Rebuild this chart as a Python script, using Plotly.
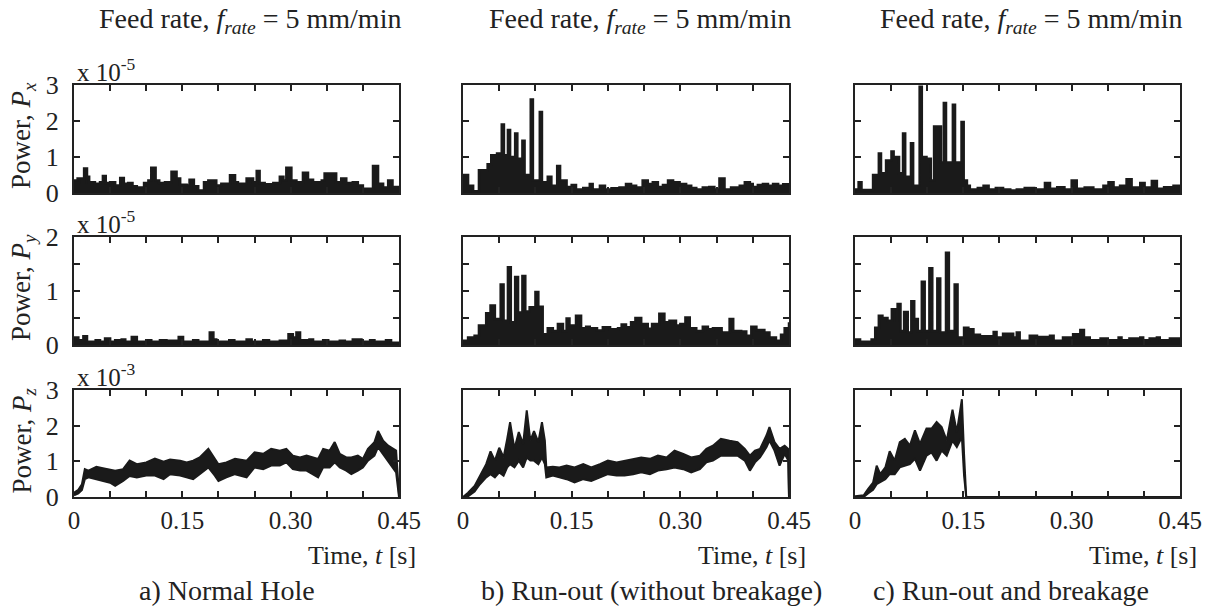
import plotly.graph_objects as go

W, H = 1215, 608
FONT = "Liberation Serif, Times New Roman, serif"
INK = "#1a1a1a"
TXT = "#222222"

# ---------------- data ----------------
# Power Px (x 1e-5): step envelope, value holds from each time to the next
t_px_a = [0, 0.005, 0.011, 0.014, 0.018, 0.021, 0.029, 0.036, 0.040, 0.044,
          0.050, 0.057, 0.064, 0.069, 0.075, 0.081, 0.087, 0.097, 0.103, 0.107,
          0.113, 0.118, 0.126, 0.135, 0.142, 0.147, 0.156, 0.160, 0.166, 0.172,
          0.180, 0.186, 0.197, 0.204, 0.216, 0.223, 0.227, 0.239, 0.248, 0.253,
          0.257, 0.264, 0.276, 0.285, 0.290, 0.294, 0.301, 0.308, 0.317, 0.324,
          0.331, 0.343, 0.347, 0.363, 0.370, 0.377, 0.386, 0.393, 0.400, 0.414,
          0.421, 0.428, 0.435, 0.441, 0.45]
px_a = [0.35, 0.4, 0.3, 0.68, 0.45, 0.3, 0.26, 0.3, 0.47, 0.28,
        0.3, 0.21, 0.42, 0.26, 0.28, 0.19, 0.15, 0.28, 0.35, 0.7,
        0.35, 0.28, 0.3, 0.59, 0.4, 0.23, 0.21, 0.37, 0.19, 0.07,
        0.3, 0.35, 0.21, 0.26, 0.49, 0.3, 0.26, 0.4, 0.3, 0.61,
        0.28, 0.24, 0.28, 0.45, 0.35, 0.7, 0.35, 0.3, 0.56, 0.37,
        0.3, 0.35, 0.54, 0.3, 0.4, 0.28, 0.3, 0.21, 0.12, 0.75,
        0.26, 0.15, 0.35, 0.17, 0.17]

t_px_b = [0, 0.007, 0.014, 0.022, 0.034, 0.039, 0.047, 0.0535, 0.0565, 0.062,
          0.065, 0.072, 0.075, 0.082, 0.085, 0.0935, 0.0965, 0.106, 0.109, 0.117,
          0.122, 0.130, 0.134, 0.143, 0.150, 0.156, 0.166, 0.175, 0.179, 0.189,
          0.196, 0.205, 0.216, 0.225, 0.232, 0.239, 0.248, 0.255, 0.262, 0.269,
          0.276, 0.283, 0.290, 0.299, 0.308, 0.315, 0.322, 0.331, 0.340, 0.347,
          0.354, 0.361, 0.370, 0.382, 0.389, 0.396, 0.400, 0.407, 0.414, 0.421,
          0.428, 0.435, 0.442, 0.45]
px_b = [0.5, 0.2, 0.05, 0.63, 0.8, 1.05, 1.1, 1.9, 1.05, 1.75,
        1.0, 1.65, 0.95, 1.45, 0.5, 2.6, 0.35, 2.25, 0.3, 0.45,
        0.2, 0.75, 0.35, 0.17, 0.22, 0.1, 0.14, 0.25, 0.1, 0.2,
        0.1, 0.13, 0.15, 0.25, 0.2, 0.15, 0.35, 0.25, 0.3, 0.17,
        0.22, 0.35, 0.3, 0.25, 0.2, 0.14, 0.1, 0.15, 0.17, 0.1,
        0.4, 0.1, 0.15, 0.2, 0.3, 0.25, 0.17, 0.22, 0.25, 0.2,
        0.25, 0.2, 0.24, 0.2]

t_px_c = [0, 0.005, 0.009, 0.025, 0.033, 0.036, 0.043, 0.0505, 0.0535, 0.061,
          0.0665, 0.0695, 0.0775, 0.0805, 0.085, 0.0895, 0.0925, 0.099, 0.105, 0.1095,
          0.119, 0.123, 0.126, 0.1355, 0.1385, 0.1475, 0.1505, 0.155, 0.159, 0.170,
          0.178, 0.185, 0.195, 0.205, 0.215, 0.224, 0.235, 0.248, 0.263, 0.270,
          0.280, 0.290, 0.300, 0.307, 0.318, 0.330, 0.344, 0.351, 0.358, 0.367,
          0.376, 0.383, 0.395, 0.401, 0.411, 0.418, 0.428, 0.441, 0.45]
px_c = [0.1, 0.3, 0.08, 0.5, 1.1, 0.55, 0.9, 1.15, 1.0, 0.55,
        1.65, 0.45, 1.38, 0.2, 0.2, 2.95, 1.0, 0.95, 0.35, 1.85,
        0.85, 2.5, 0.85, 2.45, 0.85, 1.97, 0.35, 0.2, 0.1, 0.14,
        0.2, 0.1, 0.14, 0.1, 0.07, 0.1, 0.14, 0.1, 0.28, 0.12,
        0.16, 0.1, 0.35, 0.12, 0.15, 0.1, 0.2, 0.3, 0.15, 0.2,
        0.38, 0.15, 0.28, 0.15, 0.33, 0.12, 0.16, 0.2, 0.2]

# Power Py (x 1e-5)
t_py_a = [0, 0.006, 0.013, 0.018, 0.030, 0.036, 0.043, 0.050, 0.057, 0.066,
          0.071, 0.080, 0.087, 0.100, 0.107, 0.119, 0.128, 0.145, 0.151, 0.165,
          0.172, 0.188, 0.193, 0.197, 0.215, 0.222, 0.239, 0.246, 0.262, 0.270,
          0.285, 0.297, 0.303, 0.308, 0.313, 0.326, 0.331, 0.345, 0.352, 0.368,
          0.375, 0.386, 0.398, 0.410, 0.416, 0.432, 0.439, 0.45]
py_a = [0.14, 0.09, 0.16, 0.06, 0.09, 0.06, 0.12, 0.06, 0.09, 0.1,
        0.06, 0.15, 0.06, 0.09, 0.06, 0.09, 0.08, 0.15, 0.06, 0.09,
        0.06, 0.23, 0.1, 0.06, 0.09, 0.06, 0.1, 0.06, 0.09, 0.06,
        0.08, 0.2, 0.14, 0.23, 0.09, 0.1, 0.06, 0.09, 0.06, 0.08,
        0.06, 0.1, 0.06, 0.09, 0.06, 0.09, 0.04, 0.04]

t_py_b = [0, 0.007, 0.016, 0.022, 0.032, 0.038, 0.044, 0.052, 0.056, 0.062,
          0.066, 0.072, 0.076, 0.082, 0.086, 0.092, 0.100, 0.104, 0.110, 0.117,
          0.124, 0.131, 0.138, 0.143, 0.147, 0.156, 0.163, 0.170, 0.175, 0.185,
          0.193, 0.203, 0.214, 0.219, 0.225, 0.232, 0.238, 0.246, 0.255, 0.261,
          0.271, 0.278, 0.285, 0.294, 0.300, 0.307, 0.313, 0.322, 0.331, 0.338,
          0.345, 0.357, 0.368, 0.373, 0.384, 0.391, 0.398, 0.405, 0.416, 0.423,
          0.432, 0.439, 0.444, 0.45]
py_b = [0.08, 0.14, 0.17, 0.36, 0.59, 0.73, 0.48, 1.12, 0.45, 1.44,
        0.42, 1.26, 0.6, 1.28, 0.62, 0.7, 0.98, 0.71, 0.2, 0.31,
        0.26, 0.39, 0.26, 0.49, 0.36, 0.54, 0.31, 0.34, 0.31, 0.27,
        0.33, 0.29, 0.31, 0.38, 0.33, 0.42, 0.5, 0.39, 0.3, 0.39,
        0.58, 0.42, 0.45, 0.36, 0.39, 0.51, 0.31, 0.26, 0.34, 0.29,
        0.31, 0.23, 0.48, 0.26, 0.25, 0.17, 0.34, 0.28, 0.23, 0.14,
        0.08, 0.19, 0.31, 0.42]

t_py_c = [0, 0.007, 0.023, 0.028, 0.033, 0.038, 0.045, 0.051, 0.058, 0.059,
          0.063, 0.068, 0.073, 0.078, 0.082, 0.087, 0.0925, 0.0965, 0.103, 0.107,
          0.114, 0.118, 0.126, 0.130, 0.138, 0.142, 0.151, 0.157, 0.164, 0.173,
          0.192, 0.196, 0.205, 0.219, 0.224, 0.228, 0.242, 0.252, 0.270, 0.275,
          0.288, 0.302, 0.312, 0.317, 0.325, 0.340, 0.350, 0.365, 0.369, 0.380,
          0.395, 0.399, 0.408, 0.418, 0.422, 0.436, 0.45]
py_c = [0.1, 0.06, 0.1, 0.32, 0.54, 0.5, 0.45, 0.66, 0.45, 0.76,
        0.26, 0.61, 0.23, 0.81, 0.48, 0.26, 1.17, 0.26, 1.42, 0.26,
        1.23, 0.23, 1.71, 0.26, 1.12, 0.14, 0.32, 0.29, 0.19, 0.16,
        0.24, 0.14, 0.21, 0.14, 0.23, 0.08, 0.17, 0.15, 0.17, 0.08,
        0.14, 0.2, 0.28, 0.14, 0.09, 0.12, 0.09, 0.14, 0.09, 0.12,
        0.14, 0.09, 0.12, 0.14, 0.09, 0.12, 0.12]

# Power Pz (x 1e-3): upper and lower edge of the noisy band
t_pz_a = [0, 0.006, 0.011, 0.015, 0.020, 0.031, 0.040, 0.050, 0.057, 0.068,
          0.077, 0.087, 0.100, 0.112, 0.124, 0.133, 0.147, 0.156, 0.165, 0.174,
          0.186, 0.195, 0.200, 0.211, 0.223, 0.239, 0.250, 0.262, 0.273, 0.285,
          0.294, 0.303, 0.313, 0.322, 0.331, 0.338, 0.345, 0.354, 0.361, 0.368,
          0.377, 0.384, 0.393, 0.400, 0.407, 0.416, 0.421, 0.428, 0.435, 0.442,
          0.446, 0.45]
pz_a_hi = [0.12, 0.2, 0.36, 0.78, 0.74, 0.85, 0.81, 0.78, 0.74, 0.78,
           1.02, 0.92, 0.97, 1.08, 0.99, 1.05, 1.02, 0.97, 1.02, 1.11,
           1.35, 1.07, 0.92, 0.97, 1.07, 1.02, 1.25, 1.21, 1.35, 1.3,
           1.35, 1.16, 1.11, 1.16, 1.11, 1.07, 1.35, 1.3, 1.54, 1.21,
           1.11, 1.11, 1.16, 1.07, 1.35, 1.54, 1.85, 1.58, 1.44, 1.35,
           1.3, 0.08]
pz_a_lo = [0.05, 0.1, 0.2, 0.5, 0.55, 0.5, 0.45, 0.4, 0.31, 0.45,
           0.59, 0.55, 0.6, 0.6, 0.5, 0.64, 0.6, 0.55, 0.5, 0.64,
           0.83, 0.6, 0.45, 0.55, 0.64, 0.55, 0.83, 0.78, 0.88, 0.88,
           0.97, 0.78, 0.74, 0.74, 0.64, 0.55, 0.83, 0.83, 0.97, 0.83,
           0.74, 0.64, 0.74, 0.83, 1.02, 1.16, 1.4, 1.21, 1.02, 0.83,
           0.69, 0.0]

t_pz_b = [0, 0.007, 0.016, 0.023, 0.032, 0.038, 0.044, 0.050, 0.056, 0.061,
          0.065, 0.071, 0.077, 0.083, 0.088, 0.093, 0.098, 0.104, 0.109, 0.113,
          0.115, 0.124, 0.133, 0.143, 0.154, 0.166, 0.177, 0.189, 0.200, 0.212,
          0.223, 0.235, 0.246, 0.258, 0.269, 0.281, 0.292, 0.304, 0.315, 0.327,
          0.336, 0.345, 0.356, 0.368, 0.379, 0.389, 0.396, 0.403, 0.410, 0.419,
          0.423, 0.430, 0.437, 0.444, 0.449, 0.45]
pz_b_hi = [0, 0.12, 0.31, 0.59, 0.92, 1.28, 1.02, 1.38, 1.11, 1.63,
           2.1, 1.35, 1.82, 1.49, 2.43, 1.58, 1.85, 1.54, 2.1, 1.58,
           0.83, 0.85, 0.83, 0.88, 0.83, 0.92, 0.83, 0.92, 1.02, 0.97,
           1.02, 1.07, 1.11, 1.07, 1.16, 1.11, 1.3, 1.21, 1.11, 1.16,
           1.35, 1.44, 1.63, 1.58, 1.54, 1.35, 1.16, 1.3, 1.35, 1.73,
           1.96, 1.54, 1.35, 1.44, 1.35, 0.0]
pz_b_lo = [0, 0.02, 0.15, 0.35, 0.55, 0.64, 0.55, 0.69, 0.6, 0.83,
           0.92, 0.83, 1.02, 0.83, 1.11, 1.02, 1.02, 0.92, 1.11, 0.92,
           0.55, 0.6, 0.55, 0.5, 0.41, 0.5, 0.45, 0.55, 0.64, 0.6,
           0.6, 0.64, 0.69, 0.64, 0.74, 0.78, 0.83, 0.78, 0.69, 0.78,
           0.97, 1.02, 1.16, 1.16, 1.16, 1.02, 0.74, 0.97, 1.11, 1.4,
           1.58, 1.3, 0.88, 1.21, 1.02, 0.0]

t_pz_c = [0, 0.012, 0.018, 0.025, 0.030, 0.035, 0.042, 0.048, 0.055, 0.062,
          0.069, 0.076, 0.083, 0.090, 0.099, 0.106, 0.113, 0.120, 0.127, 0.135,
          0.141, 0.148, 0.151, 0.154, 0.45]
pz_c_hi = [0.02, 0.05, 0.22, 0.4, 0.88, 0.64, 0.83, 1.28, 1.02, 1.54,
           1.63, 1.44, 1.87, 1.49, 1.92, 1.92, 2.1, 1.96, 1.58, 2.45,
           1.82, 2.74, 1.2, 0.0, 0.0]
pz_c_lo = [0, 0, 0.1, 0.2, 0.36, 0.41, 0.5, 0.64, 0.64, 0.83,
           0.88, 0.92, 1.07, 0.74, 1.16, 1.25, 1.02, 1.3, 1.16, 1.58,
           1.4, 1.68, 0.6, 0.0, 0.0]

# axes / labels
x_major_vals = [0, 0.15, 0.30, 0.45]
x_major_text = ["0", "0.15", "0.30", "0.45"]
x_minor_vals = [0.05, 0.10, 0.20, 0.25, 0.35, 0.40]
y_ranges = [[0, 3], [0, 2], [0, 3]]
y_major_vals = [[0, 1, 2, 3], [0, 1, 2], [0, 1, 2, 3]]
y_major_text = [["0", "1", "2", "3"], ["0", "1", "2"], ["0", "1", "2", "3"]]
y_minor_vals = [[], [0.5, 1.5], []]
y_titles = ["Power, <i>P</i><sub><i>x</i></sub>",
            "Power, <i>P</i><sub><i>y</i></sub>",
            "Power, <i>P</i><sub><i>z</i></sub>"]
y_exponents = ["-5", "-5", "-3"]
col_title = "Feed rate, <i>f</i><sub><i>rate</i></sub> = 5 mm/min"
x_title = "Time, <i>t</i> [s]"
captions = ["a) Normal Hole", "b) Run-out (without breakage)", "c) Run-out and breakage"]

step_t = [[t_px_a, t_px_b, t_px_c], [t_py_a, t_py_b, t_py_c]]
step_v = [[px_a, px_b, px_c], [py_a, py_b, py_c]]
band_t = [t_pz_a, t_pz_b, t_pz_c]
band_hi = [pz_a_hi, pz_b_hi, pz_c_hi]
band_lo = [pz_a_lo, pz_b_lo, pz_c_lo]

# ---------------- layout geometry (pixels) ----------------
col_px = [(74, 399), (463, 789), (855, 1180)]
row_px = [(85, 193), (237, 345), (390, 497)]


def fx(p):
    return p / W


def fy(p):
    return 1 - p / H


fig = go.Figure()
layout = dict(width=W, height=H, autosize=False, template="none",
              margin=dict(l=0, r=0, t=0, b=0, pad=0),
              paper_bgcolor="white", plot_bgcolor="white",
              showlegend=False, font=dict(family=FONT, color=TXT))

for r in range(3):
    for c in range(3):
        i = r * 3 + c + 1
        sfx = "" if i == 1 else str(i)
        xname, yname = "x" + sfx, "y" + sfx
        tick_common = dict(ticks="inside", ticklen=6, tickwidth=2, tickcolor=TXT)
        layout["xaxis" + sfx] = dict(
            domain=[fx(col_px[c][0]), fx(col_px[c][1])], range=[0, 0.45],
            anchor=yname, tickmode="array", tickvals=x_major_vals,
            ticktext=x_major_text, showticklabels=(r == 2),
            minor=dict(tickmode="array", tickvals=x_minor_vals, **tick_common),
            showline=True, linewidth=2, linecolor=TXT, mirror="ticks",
            showgrid=False, zeroline=False, fixedrange=True, automargin=False,
            tickfont=dict(family=FONT, size=25, color=TXT), **tick_common)
        ymin = dict(tickmode="array", tickvals=y_minor_vals[r], **tick_common) \
            if y_minor_vals[r] else dict(ticks="")
        layout["yaxis" + sfx] = dict(
            domain=[fy(row_px[r][1]), fy(row_px[r][0])], range=y_ranges[r],
            anchor=xname, tickmode="array", tickvals=y_major_vals[r],
            ticktext=y_major_text[r], showticklabels=(c == 0),
            minor=ymin,
            showline=True, linewidth=2, linecolor=TXT, mirror="ticks",
            showgrid=False, zeroline=False, fixedrange=True, automargin=False,
            ticklabelstandoff=8,
            tickfont=dict(family=FONT, size=26, color=TXT), **tick_common)
        if r < 2:
            fig.add_trace(go.Scatter(
                x=step_t[r][c], y=step_v[r][c], mode="lines",
                line=dict(color=INK, width=2.5, shape="hv"),
                fill="tozeroy", fillcolor=INK,
                xaxis=xname, yaxis=yname, hoverinfo="skip"))
        else:
            fig.add_trace(go.Scatter(
                x=band_t[c], y=band_lo[c], mode="lines",
                line=dict(color=INK, width=2),
                xaxis=xname, yaxis=yname, hoverinfo="skip"))
            fig.add_trace(go.Scatter(
                x=band_t[c], y=band_hi[c], mode="lines",
                line=dict(color=INK, width=2),
                fill="tonexty", fillcolor=INK,
                xaxis=xname, yaxis=yname, hoverinfo="skip"))

ann = []
for c in range(3):
    ann.append(dict(text=col_title, x=fx(col_px[c][1] + 4), y=fy(20),
                    xanchor="right", yanchor="middle",
                    font=dict(size=28, family=FONT, color=TXT)))
for r in range(3):
    ann.append(dict(text=y_titles[r], x=fx(23), y=fy((row_px[r][0] + row_px[r][1]) / 2 - 3),
                    xanchor="center", yanchor="middle", textangle=-90,
                    font=dict(size=27, family=FONT, color=TXT)))
    ann.append(dict(text="x 10<sup>" + y_exponents[r] + "</sup>",
                    x=fx(75), y=fy(row_px[r][0] + 3), xanchor="left", yanchor="bottom",
                    font=dict(size=25, family=FONT, color=TXT)))
cap_cx = [227, 651, 1011]
for c in range(3):
    ann.append(dict(text=x_title, x=fx(col_px[c][1] + 19), y=fy(555),
                    xanchor="right", yanchor="middle",
                    font=dict(size=26, family=FONT, color=TXT)))
    ann.append(dict(text=captions[c], x=fx(cap_cx[c]), y=fy(590),
                    xanchor="center", yanchor="middle",
                    font=dict(size=28, family=FONT, color=TXT)))
for a in ann:
    a.update(xref="paper", yref="paper", showarrow=False)
layout["annotations"] = ann

fig.update_layout(**layout)
fig.write_html("out.html",
               config={"displayModeBar": False, "staticPlot": True},
               post_script="document.body.style.margin='0';"
                           "document.body.style.overflow='hidden';")
